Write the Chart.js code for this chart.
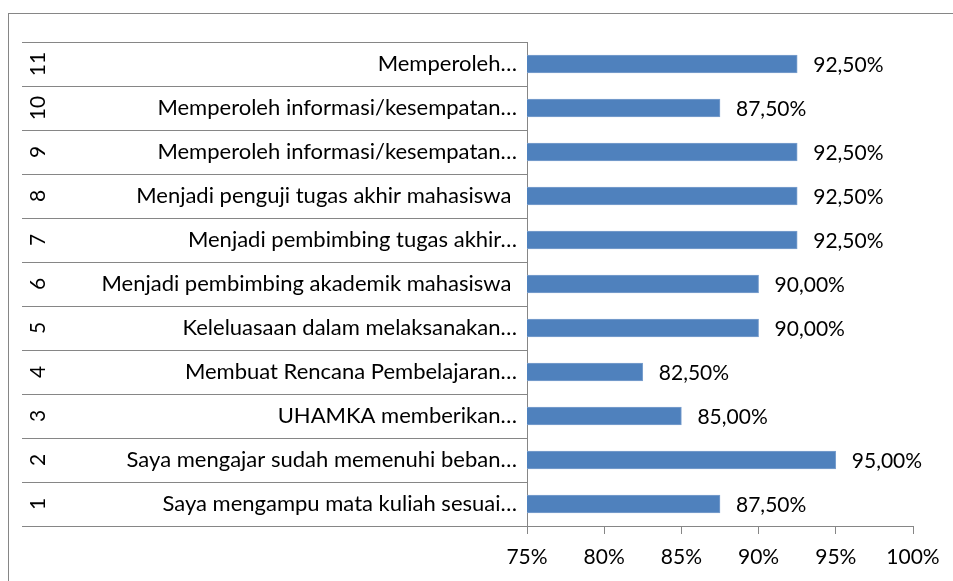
<!DOCTYPE html>
<html>
<head>
<meta charset="utf-8">
<script src="https://cdn.jsdelivr.net/npm/chart.js@4"></script>
<style>
  body { margin: 0; background: #fff; }
  canvas { display: block; }
</style>
</head>
<body>
<canvas id="myChart" width="953" height="581"></canvas>
<script>
// nomor butir (kolom kiri, diputar)
const nomor = ['1', '2', '3', '4', '5', '6', '7', '8', '9', '10', '11'];

// teks butir
const labels = [
    'Saya mengampu mata kuliah sesuai…',
    'Saya mengajar sudah memenuhi beban…',
    'UHAMKA memberikan…',
    'Membuat Rencana Pembelajaran…',
    'Keleluasaan dalam melaksanakan…',
    'Menjadi pembimbing akademik mahasiswa ',
    'Menjadi pembimbing tugas akhir…',
    'Menjadi penguji tugas akhir mahasiswa ',
    'Memperoleh informasi/kesempatan…',
    'Memperoleh informasi/kesempatan…',
    'Memperoleh…',
];

// persentase
const nilai = [87.5, 95, 85, 82.5, 90, 90, 92.5, 92.5, 92.5, 87.5, 92.5];

// tick sumbu x
const tickMin = 75;
const tickMax = 100;
const tickStep = 5;

const FONT = 'Lato';
const GRIS = '#868686';

// garis pemisah, nomor, bingkai, label data
const hiasan = {
    id: 'hiasan',
    afterDraw(chart) {
        const ctx = chart.ctx;
        const y = chart.scales.y;
        const area = chart.chartArea;
        ctx.save();
        // bingkai luar
        ctx.strokeStyle = GRIS;
        ctx.lineWidth = 1;
        ctx.strokeRect(8.5, 13.5, 1200, 1200);
        // garis pemisah kategori
        for (let i = 0; i <= labels.length; i++) {
            const py = Math.round(y.getPixelForValue(i - 0.5)) + 0.5;
            ctx.beginPath();
            ctx.moveTo(22, py);
            ctx.lineTo(area.left, py);
            ctx.stroke();
        }
        // nomor diputar
        ctx.fillStyle = '#000';
        ctx.font = '21px ' + FONT;
        ctx.textAlign = 'center';
        ctx.textBaseline = 'middle';
        nomor.forEach((n, i) => {
            ctx.save();
            ctx.translate(38, y.getPixelForValue(i));
            ctx.rotate(-Math.PI / 2);
            ctx.fillText(n, 0, 0);
            ctx.restore();
        });
        // label data
        ctx.textAlign = 'left';
        const meta = chart.getDatasetMeta(0);
        meta.data.forEach((bar, i) => {
            const teks = nilai[i].toFixed(2).replace('.', ',') + '%';
            ctx.fillText(teks, bar.x + 16, bar.y + 1);
        });
        ctx.restore();
    }
};

const data = {
    labels: labels,
    datasets: [{
        data: nilai,
        backgroundColor: '#4f81bd',
        borderColor: '#7ea2cf',
        borderWidth: 1,
        barThickness: 18,
    }]
};

const config = {
    type: 'bar',
    data: data,
    options: {
        indexAxis: 'y',
        responsive: false,
        animation: false,
        layout: { padding: { top: 42, right: 40, left: 0, bottom: 0 } },
        plugins: {
            legend: { display: false },
            tooltip: { enabled: false },
        },
        scales: {
            x: {
                min: tickMin,
                max: tickMax,
                afterFit: (s) => { s.height = 55; },
                grid: { drawOnChartArea: false, tickLength: 8, color: GRIS },
                border: { color: GRIS },
                ticks: {
                    stepSize: tickStep,
                    color: '#000',
                    padding: 11,
                    font: { family: FONT, size: 21 },
                    callback: (v) => v + '%',
                },
            },
            y: {
                reverse: true,
                afterFit: (s) => { s.width = 527; },
                grid: { display: false },
                border: { color: GRIS },
                ticks: {
                    color: '#000',
                    padding: 2,
                    font: { family: FONT, size: 22 },
                    autoSkip: false,
                },
            },
        },
    },
    plugins: [hiasan],
};

const myChart = new Chart(document.getElementById('myChart'), config);
</script>
</body>
</html>
